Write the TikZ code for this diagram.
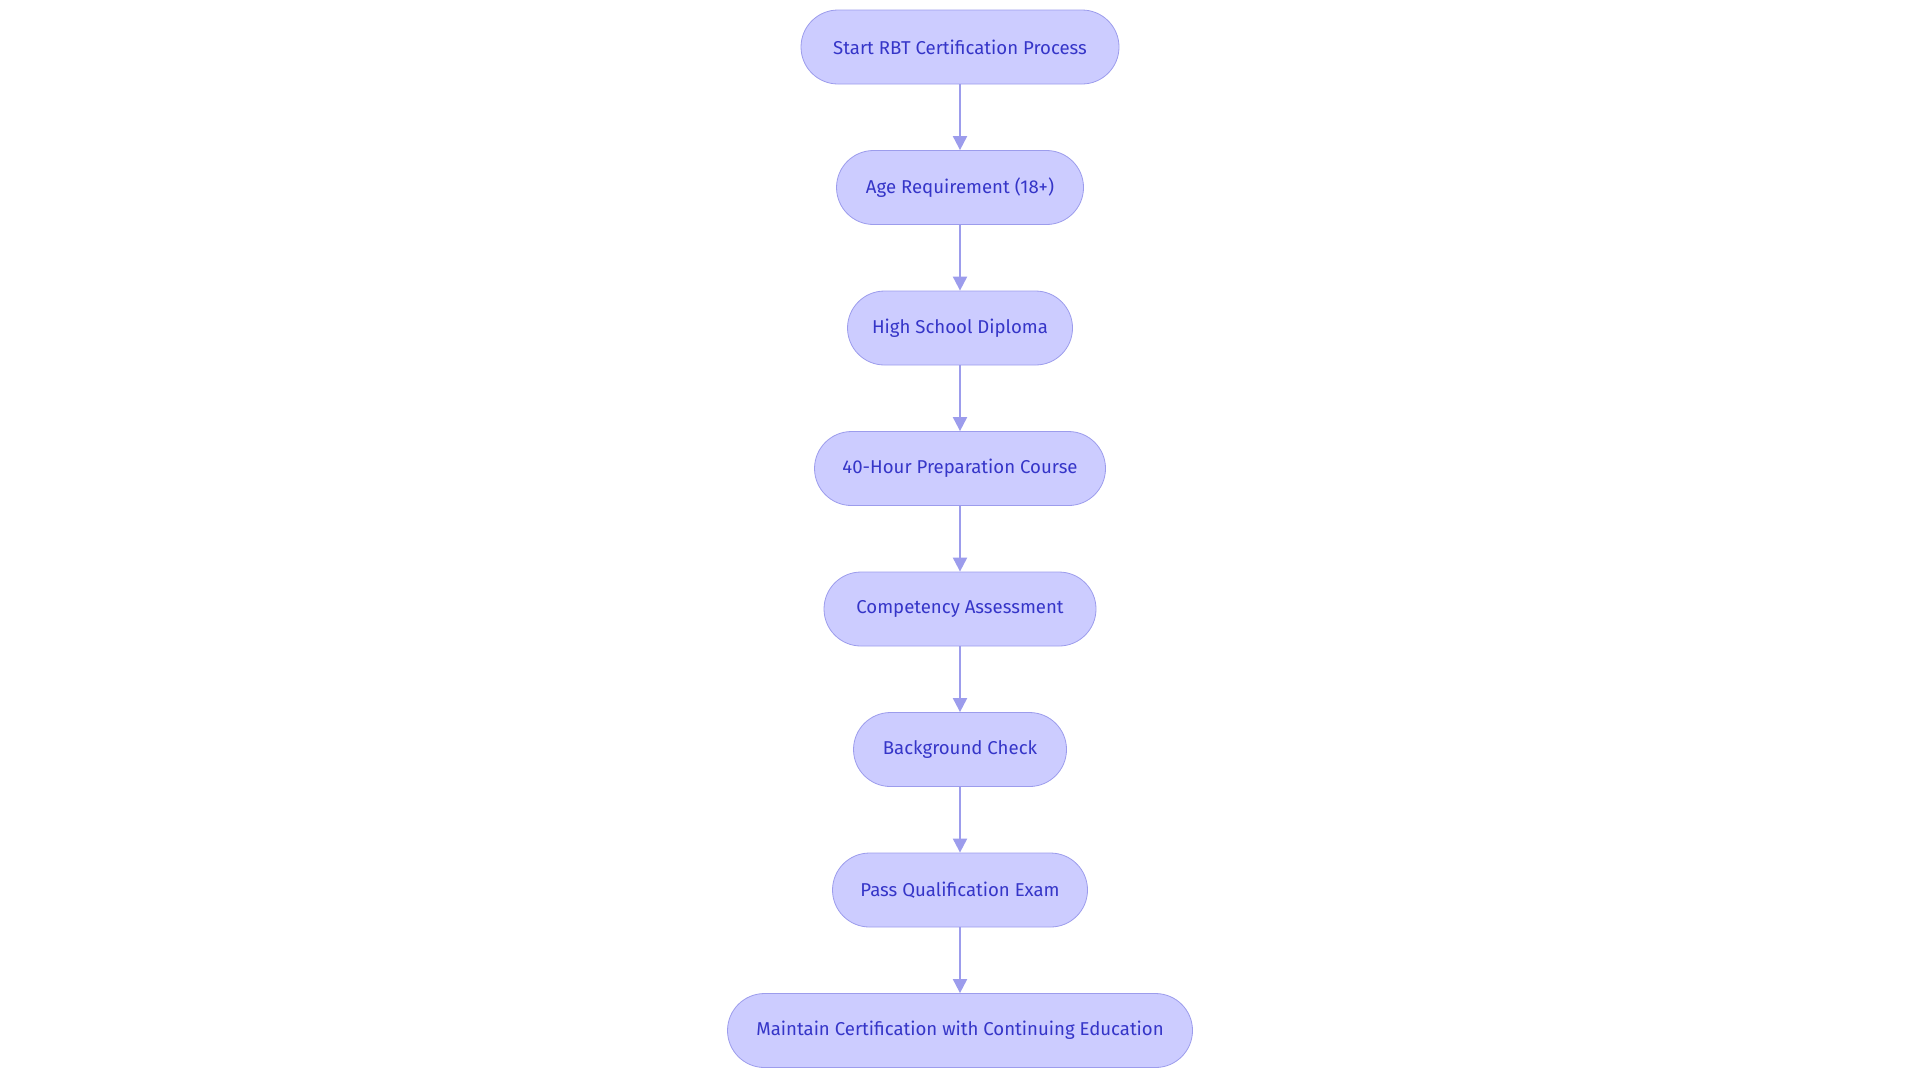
\documentclass[tikz,border=0pt]{standalone}
\usepackage{fontspec}
\setmainfont{Fira Sans}
\usetikzlibrary{positioning, arrows.meta}
\definecolor{boxfill}{HTML}{CCCCFF}
\definecolor{boxline}{HTML}{9C9CEC}
\definecolor{boxtext}{HTML}{3535C8}
\begin{document}
\begin{tikzpicture}[x=0.5pt, y=-0.5pt, node distance=32.85pt]
            % Block style
            \tikzstyle{block} = [rectangle, rounded corners=18.5pt, draw=boxline, fill=boxfill, text=boxtext, font=\fontsize{9.3pt}{11pt}\selectfont, minimum height=37pt, align=center]
            \tikzstyle{link} = [draw=boxline, line width=1pt, -{Triangle[length=7pt, width=7pt]}]
            \useasboundingbox (0,0) rectangle (1920,1083);

            % Steps
            \node[block, minimum width=159pt] (start) at (960,47) {Start RBT Certification Process};
            \node[block, minimum width=123.5pt, below=of start] (age) {Age Requirement (18+)};
            \node[block, minimum width=112.5pt, below=of age] (diploma) {High School Diploma};
            \node[block, minimum width=145.5pt, below=of diploma] (course) {40-Hour Preparation Course};
            \node[block, minimum width=136pt, below=of course] (assess) {Competency Assessment};
            \node[block, minimum width=106.5pt, below=of assess] (check) {Background Check};
            \node[block, minimum width=127.5pt, below=of check] (exam) {Pass Qualification Exam};
            \node[block, minimum width=232.5pt, below=of exam] (maintain) {Maintain Certification with Continuing Education};

            % Connections
            \draw[link] (start) -- (age);
            \draw[link] (age) -- (diploma);
            \draw[link] (diploma) -- (course);
            \draw[link] (course) -- (assess);
            \draw[link] (assess) -- (check);
            \draw[link] (check) -- (exam);
            \draw[link] (exam) -- (maintain);
        \end{tikzpicture}
\end{document}
